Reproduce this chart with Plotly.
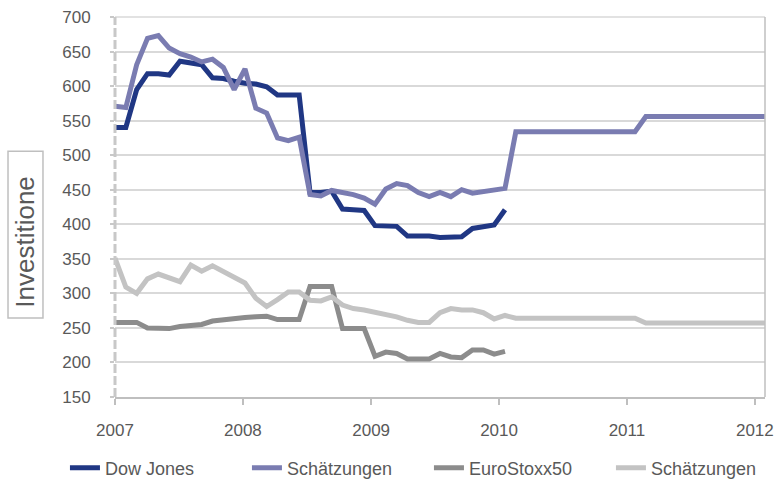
import pandas as pd
import plotly.graph_objects as go

# Zeitachse: 61 Messpunkte, gleichmäßig von Jan 2007 bis Ende Jan 2012
dates = pd.date_range("2007-01-01", "2012-01-30", periods=61)

dow_jones = [540, 540, 595, 618, 618, 616, 636, 634, 631, 612,
             611, 607, 604, 603, 599, 587, 587, 587, 446, 446,
             448, 422, 421, 420, 398, 398, 397, 383, 383, 383,
             381, 381, 382, 394, 396, 399, 421]

schaetzung_dow = [571, 569, 631, 669, 673, 655, 647, 642, 635, 639,
                  627, 595, 625, 568, 561, 525, 521, 526, 443, 441,
                  449, 446, 443, 438, 429, 451, 459, 456, 446, 440,
                  446, 440, 450, 445, 447, 449, 452,
                  534, 534, 534, 534, 534, 534, 534, 534, 534, 534, 534, 534,
                  556, 556, 556, 556, 556, 556, 556, 556, 556, 556, 556, 556]

eurostoxx = [258, 258, 258, 250, 250, 249, 252, 254, 255, 260,
             262, 263, 265, 266, 267, 262, 262, 262, 310, 310,
             310, 249, 249, 249, 209, 215, 213, 205, 205, 205,
             213, 208, 207, 218, 218, 212, 216]

schaetzung_euro = [351, 309, 300, 321, 328, 322, 317, 341, 332, 340,
                   332, 322, 315, 293, 281, 291, 302, 302, 290, 289,
                   295, 283, 278, 276, 273, 270, 266, 261, 258, 258,
                   272, 278, 276, 276, 272, 263, 268,
                   264, 264, 264, 264, 264, 264, 264, 264, 264, 264, 264, 264,
                   257, 257, 257, 257, 257, 257, 257, 257, 257, 257, 257, 257]

serien = [
    ("Dow Jones", dow_jones, "#203784"),
    ("Schätzungen", schaetzung_dow, "#7A7CB1"),
    ("EuroStoxx50", eurostoxx, "#8C8C8C"),
    ("Schätzungen", schaetzung_euro, "#C3C3C3"),
]

fig = go.Figure()
for name, werte, farbe in serien:
    fig.add_trace(go.Scatter(x=dates[:len(werte)], y=werte, mode="lines", name=name,
                             line=dict(color=farbe, width=5)))

grau = "#595959"
fig.update_layout(
    width=776, height=486,
    margin=dict(l=115, r=11, t=17, b=89, autoexpand=False),
    plot_bgcolor="white", paper_bgcolor="white",
    font=dict(family="Liberation Sans, Arial", color=grau, size=17),
    showlegend=True,
    legend=dict(orientation="h", x=-0.077, xanchor="left", y=-0.187, yanchor="middle",
                font=dict(size=18, color=grau), itemwidth=30, traceorder="normal",
                entrywidth=137, tracegroupgap=0),
    # Achsenbeschriftung im Rahmen
    annotations=[dict(text="Investitione", textangle=-90, xref="paper", yref="paper",
                      x=-0.1377, y=0.41, xanchor="center", yanchor="middle", showarrow=False,
                      font=dict(size=26, color=grau))],
    shapes=[
        # Rahmen um die Achsenbeschriftung
        dict(type="rect", xref="paper", yref="paper", x0=-0.1646, x1=-0.1108, y0=0.208, y1=0.647,
             line=dict(color="#BFBFBF", width=1.5), fillcolor="white", layer="below"),
        # oberer Rahmen
        dict(type="line", xref="x domain", yref="y domain", x0=0, x1=1, y0=1, y1=1,
             line=dict(color="#D9D9D9", width=1.5), layer="below"),
        # gestrichelte y-Achse
        dict(type="line", xref="x domain", yref="y domain", x0=0, x1=0, y0=0, y1=1,
             line=dict(color="#C8C8C8", width=3, dash="9px,3px")),
        # rechter Rahmen
        dict(type="line", xref="x domain", yref="y domain", x0=1, x1=1, y0=0, y1=1,
             line=dict(color="#BFBFBF", width=1.5)),
    ],
)

fig.update_xaxes(range=[dates[0], dates[-1]], tick0="2007-01-01", dtick="M12", tickformat="%Y",
                 showgrid=False, showline=True, linecolor="#BFBFBF", linewidth=1.5,
                 ticks="outside", ticklen=6, tickcolor="#BFBFBF", tickwidth=1.5,
                 ticklabelstandoff=11, ticklabeloverflow="allow",
                 tickfont=dict(size=17, color=grau), zeroline=False)
fig.update_yaxes(range=[150, 700], dtick=50, showgrid=True, gridcolor="#D9D9D9", gridwidth=1.5,
                 ticks="outside", ticklen=4, tickcolor="#C8C8C8", tickwidth=2,
                 ticklabelstandoff=16, ticklabeloverflow="allow",
                 tickfont=dict(size=17, color=grau), zeroline=False, showline=False)

# Seitenrand entfernen, damit die Grafik genau das Fenster füllt
fig.write_html("out.html", config={"displayModeBar": False},
               post_script="document.body.style.margin='0';")
